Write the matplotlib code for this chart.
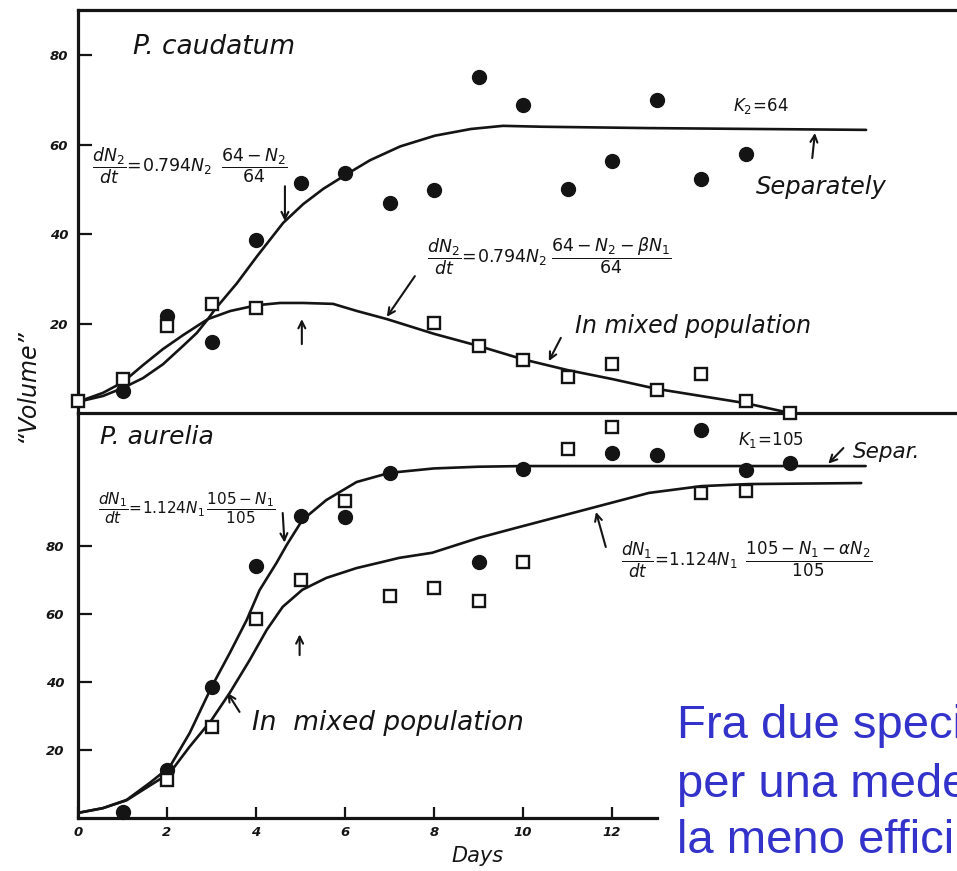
import matplotlib
matplotlib.use("Agg")
import matplotlib.pyplot as plt

plt.rcParams['font.family'] = ['DejaVu Sans']
plt.rcParams['mathtext.fontset'] = 'dejavusans'
plt.rcParams['mathtext.default'] = 'it'

# ---- P. caudatum (upper panel) ----
cau_sep_days = [1, 2, 3, 4, 5, 6, 7, 8, 9, 10, 11, 12, 13, 14, 15]
cau_sep_vol = [4.9, 21.7, 15.9, 38.7, 51.4, 53.6, 46.9, 49.8, 75.1, 68.8, 50.1, 56.3, 69.9, 52.3, 57.9]
cau_mix_days = [0, 1, 2, 3, 4, 8, 9, 10, 11, 12, 13, 14, 15, 16]
cau_mix_vol = [2.7, 7.6, 19.4, 24.4, 23.5, 20.1, 15.0, 11.8, 8.0, 10.9, 5.1, 8.7, 2.7, 0.0]

cau_sep_curve_t = [0, 0.56, 1.01, 1.46, 1.91, 2.36, 2.67, 2.92, 3.08, 3.57, 4.02, 4.61, 5.06,
                   5.51, 6.04, 6.56, 7.24, 8.02, 8.83, 9.55, 10.43, 12.81, 15.21, 17.71]
cau_sep_curve_v = [2.5, 3.8, 5.6, 7.8, 10.9, 15.0, 17.9, 21.0, 23.2, 29.0, 35.0, 42.5, 46.7,
                   50.1, 53.4, 56.5, 59.6, 62.0, 63.5, 64.2, 64.0, 63.7, 63.5, 63.3]
cau_mix_curve_t = [0, 0.56, 1.01, 1.46, 1.91, 2.36, 2.67, 2.92, 3.42, 4.02, 4.54, 5.06, 5.73,
                   6.27, 6.94, 8.0, 9.0, 10.0, 11.0, 12.0, 13.0, 14.0, 15.0, 16.0]
cau_mix_curve_v = [2.5, 4.5, 6.9, 10.7, 14.3, 17.4, 19.4, 21.0, 22.8, 24.1, 24.6, 24.6, 24.4,
                   22.8, 21.0, 17.7, 15.0, 12.0, 9.6, 7.6, 5.4, 3.8, 2.2, 0.0]

# ---- P. aurelia (lower panel) ----
aur_sep_days = [1, 2, 3, 4, 5, 6, 7, 9, 10, 12, 13, 14, 15, 16]
aur_sep_vol = [1.8, 14.1, 38.5, 74.1, 88.8, 88.5, 101.5, 75.3, 102.6, 107.4, 106.8, 114.1, 102.4, 104.4]
aur_mix_days = [2, 3, 4, 5, 6, 7, 8, 9, 10, 11, 12, 14, 15]
aur_mix_vol = [11.2, 26.8, 58.5, 70.0, 93.2, 65.3, 67.6, 63.8, 75.3, 108.5, 115.0, 95.6, 96.2]

aur_sep_curve_t = [0, 0.56, 1.09, 1.61, 2.06, 2.51, 3.0, 3.41, 3.79, 4.08, 4.46, 4.69, 5.04,
                   5.58, 6.26, 7.0, 8.0, 9.0, 10.0, 17.7]
aur_sep_curve_v = [1.5, 2.9, 5.3, 10.3, 15.0, 25.0, 38.5, 48.5, 58.2, 67.0, 75.0, 80.3, 87.6,
                   93.5, 98.8, 101.5, 102.8, 103.3, 103.5, 103.5]
aur_mix_curve_t = [0, 0.56, 1.09, 1.61, 2.06, 2.51, 3.0, 3.41, 3.86, 4.24, 4.6, 5.04, 5.58,
                   6.26, 6.84, 7.22, 7.96, 9.01, 9.84, 11.64, 12.83, 14.01, 15.07, 17.6]
aur_mix_curve_v = [1.5, 2.9, 5.2, 9.5, 13.2, 21.0, 28.8, 36.8, 46.5, 55.3, 62.1, 67.1, 70.6,
                   73.5, 75.3, 76.5, 78.0, 82.4, 85.3, 91.5, 95.6, 97.6, 98.2, 98.5]

y_ticks = [20, 40, 60, 80]
x_ticks = [0, 2, 4, 6, 8, 10, 12]

INK = '#141414'
W, H = 957, 871
fig = plt.figure(figsize=(W / 100, H / 100), dpi=100)
fig.patch.set_facecolor('white')

x0, x_right = 78, 957
ax_top = fig.add_axes([x0 / W, (H - 413) / H, (x_right - x0) / W, (413 - 10) / H])
ax_bot = fig.add_axes([x0 / W, (H - 818) / H, (x_right - x0) / W, (818 - 413) / H])

XMAX = (x_right - x0) / 44.5
ax_top.set_xlim(0, XMAX)
ax_bot.set_xlim(0, XMAX)
ax_top.set_ylim(0, 90.1)
ax_bot.set_ylim(0, 119.1)

hand = dict(family='DejaVu Sans', style='italic', color=INK)
tick_font = dict(family='DejaVu Sans', style='italic', weight='bold', size=9.5)

for ax in (ax_top, ax_bot):
    ax.set_facecolor('none')
    ax.spines['right'].set_visible(False)
    for s in ax.spines.values():
        s.set_linewidth(2.3)
        s.set_color(INK)
    ax.set_yticks(y_ticks)
    ax.tick_params(axis='y', direction='in', length=10, width=1.6, color=INK, pad=7)
    for lab in ax.get_yticklabels():
        lab.set(**tick_font, color=INK)

ax_top.set_xticks([])
ax_bot.spines['top'].set_visible(False)
ax_bot.spines['bottom'].set_bounds(0, 13.0)
ax_bot.set_xticks(x_ticks)
ax_bot.tick_params(axis='x', direction='in', length=8, width=1.6, color=INK, pad=6)
ax_bot.tick_params(axis='y', pad=10)
for lab in ax_bot.get_xticklabels():
    lab.set(**tick_font, color=INK)

curve_kw = dict(color=INK, lw=1.9, solid_joinstyle='round', solid_capstyle='round', zorder=3)
dot_kw = dict(ls='none', marker='o', ms=10, mfc=INK, mec=INK, zorder=4, clip_on=False)
box_kw = dict(ls='none', marker='s', ms=8.5, mfc='white', mec=INK, mew=1.7, zorder=5, clip_on=False)

# upper panel: P. caudatum
ax_top.plot(cau_sep_curve_t, cau_sep_curve_v, **curve_kw)
ax_top.plot(cau_mix_curve_t, cau_mix_curve_v, **curve_kw)
ax_top.plot(cau_sep_days, cau_sep_vol, **dot_kw)
ax_top.plot(cau_mix_days, cau_mix_vol, **box_kw)

# lower panel: P. aurelia
ax_bot.plot(aur_sep_curve_t, aur_sep_curve_v, **curve_kw)
ax_bot.plot(aur_mix_curve_t, aur_mix_curve_v, **curve_kw)
ax_bot.plot(aur_sep_days, aur_sep_vol, **dot_kw)
ax_bot.plot(aur_mix_days, aur_mix_vol, **box_kw)

arrow = dict(arrowstyle='->,head_length=0.5,head_width=0.25', color=INK, lw=1.5,
             shrinkA=0, shrinkB=0)

def pointer(ax, tail, head):
    ax.annotate('', xy=head, xytext=tail, arrowprops=arrow, zorder=6)

# upper panel labels
ax_top.text(1.24, 80.2, 'P. caudatum', fontsize=19, va='baseline', **hand)
ax_top.text(0.31, 55.2, r'$\dfrac{dN_2}{dt}\!=\!0.794N_2\;\;\dfrac{64-N_2}{64}$',
            fontsize=12.5, va='center', color=INK)
pointer(ax_top, (4.65, 50.7), (4.65, 42.9))
ax_top.text(14.72, 68.6, r'$K_2\!=\!64$', fontsize=12, va='center', color=INK)
pointer(ax_top, (16.5, 57.0), (16.56, 62.6))
ax_top.text(15.24, 48.9, 'Separately', fontsize=17.5, va='baseline', **hand)
ax_top.text(7.84, 35.1, r'$\dfrac{dN_2}{dt}\!=\!0.794N_2\;\dfrac{64-N_2-\beta N_1}{64}$',
            fontsize=12.5, va='center', color=INK)
pointer(ax_top, (7.57, 30.6), (6.94, 21.5))
pointer(ax_top, (5.03, 15.4), (5.03, 21.0))
ax_top.text(11.17, 17.9, 'In mixed population', fontsize=17, va='baseline', **hand)
pointer(ax_top, (10.85, 16.8), (10.58, 11.6))

# lower panel labels
ax_bot.text(0.49, 110.0, 'P. aurelia', fontsize=18, va='baseline', **hand)
ax_bot.text(0.45, 91.2, r'$\dfrac{dN_1}{dt}\!=\!1.124N_1\,\dfrac{105-N_1}{105}$',
            fontsize=11, va='center', color=INK)
pointer(ax_bot, (4.6, 89.7), (4.64, 81.0))
ax_bot.text(14.84, 111.2, r'$K_1\!=\!105$', fontsize=12, va='center', color=INK)
pointer(ax_bot, (17.2, 108.8), (16.86, 104.2))
ax_bot.text(17.42, 105.9, 'Separ.', fontsize=15.5, va='baseline', **hand)
pointer(ax_bot, (11.86, 79.7), (11.64, 90.0))
ax_bot.text(12.2, 75.9, r'$\dfrac{dN_1}{dt}\!=\!1.124N_1\;\;\dfrac{105-N_1-\alpha N_2}{105}$',
            fontsize=12, va='center', color=INK)
pointer(ax_bot, (4.98, 47.9), (4.98, 54.0))
ax_bot.text(3.92, 25.9, 'In  mixed population', fontsize=19, va='baseline', **hand)
pointer(ax_bot, (3.63, 31.2), (3.36, 36.8))

# axis titles
fig.text(477 / W, (H - 862) / H, 'Days', fontsize=15, ha='center', va='baseline', **hand)
fig.text(27 / W, (H - 385) / H, '\u201cVolume\u201d', fontsize=17, rotation=90,
         ha='center', va='center', **hand)

# caption on the right
blue = '#3333CC'
caption = ['Fra due speci', 'per una mede', 'la meno effici']
for line, base in zip(caption, [738, 797, 853]):
    fig.text(677 / W, (H - base) / H, line, fontsize=34, color=blue,
             family='Liberation Sans', ha='left', va='baseline')

fig.savefig('out.png', dpi=100)
